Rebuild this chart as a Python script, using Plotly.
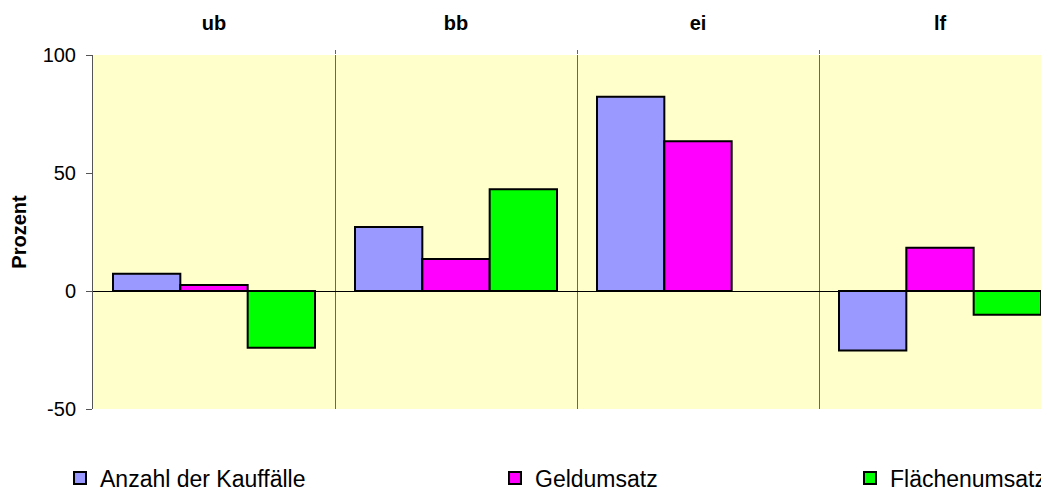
import plotly.graph_objects as go

categories = ["ub", "bb", "ei", "lf"]
anzahl = [7.3, 27.1, 82.3, -25.2]
geld = [2.5, 13.6, 63.5, 18.3]
flaeche = [-24.0, 43.1, None, -10.1]
series_names = ["Anzahl der Kauffälle", "Geldumsatz", "Flächenumsatz"]
colors = ["#9999FF", "#FF00FF", "#00FF00"]
y_ticks = [-50, 0, 50, 100]
y_range = [-50, 100]

# page body has an 8px margin, so the figure is offset by 8px
OFF = 8
W, H = 1049 - OFF, 492 - OFF
L, T = 93 - OFF, 55 - OFF
B = H - (409 - OFF)
cat_px = 242.0
plot_w = W - L
plot_h = H - T - B
x = list(range(len(categories)))
xmax = -0.5 + plot_w / cat_px

fig = go.Figure()
legend_ids = ["legend", "legend2", "legend3"]
for vals, name, col, lg in zip([anzahl, geld, flaeche], series_names, colors, legend_ids):
    fig.add_trace(go.Bar(
        x=x, y=vals, name=name, legend=lg,
        marker=dict(color=col, line=dict(color="black", width=2)),
    ))

font = dict(family="Liberation Sans, Arial, sans-serif", color="black")
legend_text_px = [100, 535, 890]
legend_y_px = 478 - OFF
common_leg = dict(orientation="h", xanchor="left", yanchor="middle",
                  y=-(legend_y_px - (H - B)) / plot_h,
                  font=dict(size=23, **font), bgcolor="rgba(0,0,0,0)",
                  itemwidth=30)
zero_pos = (0 - y_range[0]) / (y_range[1] - y_range[0])
fig.update_layout(
    width=W, height=H, showlegend=True,
    margin=dict(l=L, r=0, t=T, b=B, autoexpand=False),
    paper_bgcolor="white", plot_bgcolor="#FFFFCC",
    barmode="group", bargap=40 / cat_px, bargroupgap=0,
    font=font,
    legend=dict(x=(legend_text_px[0] - 40 - OFF - L) / plot_w, **common_leg),
    legend2=dict(x=(legend_text_px[1] - 40 - OFF - L) / plot_w, **common_leg),
    legend3=dict(x=(legend_text_px[2] - 40 - OFF - L) / plot_w, **common_leg),
    xaxis=dict(
        side="top", range=[-0.5, xmax], tickmode="array", tickvals=x,
        ticktext=["<b>%s</b>" % c for c in categories],
        tickfont=dict(size=20, **font), ticks="", ticklabelstandoff=20,
        showgrid=False, zeroline=False, showline=False, automargin=False,
        minor=dict(tickmode="array", tickvals=[i + 0.5 for i in x[:-1]],
                   ticks="outside", ticklen=4, tickcolor="#666666",
                   showgrid=True, gridcolor="#666666", gridwidth=1),
        fixedrange=True,
    ),
    xaxis2=dict(
        overlaying="x", matches="x", anchor="free", position=zero_pos,
        side="bottom", tickmode="array", tickvals=x, showticklabels=False,
        ticks="inside", ticklen=4, tickcolor="#333333", tickwidth=1,
        showgrid=False, zeroline=False, showline=False, automargin=False,
    ),
    yaxis=dict(
        range=y_range, tickmode="array", tickvals=y_ticks,
        ticktext=[str(v) for v in y_ticks],
        tickfont=dict(size=20, **font), ticks="outside", ticklen=6,
        tickcolor="#555555", showline=True, linecolor="#555555", linewidth=1,
        showgrid=False, zeroline=True, zerolinecolor="black", zerolinewidth=1,
        automargin=False, ticklabelstandoff=6,
        title=dict(text="<b>Prozent</b>", font=dict(size=20, **font), standoff=20),
    ),
)

fig.write_html("out.html")
